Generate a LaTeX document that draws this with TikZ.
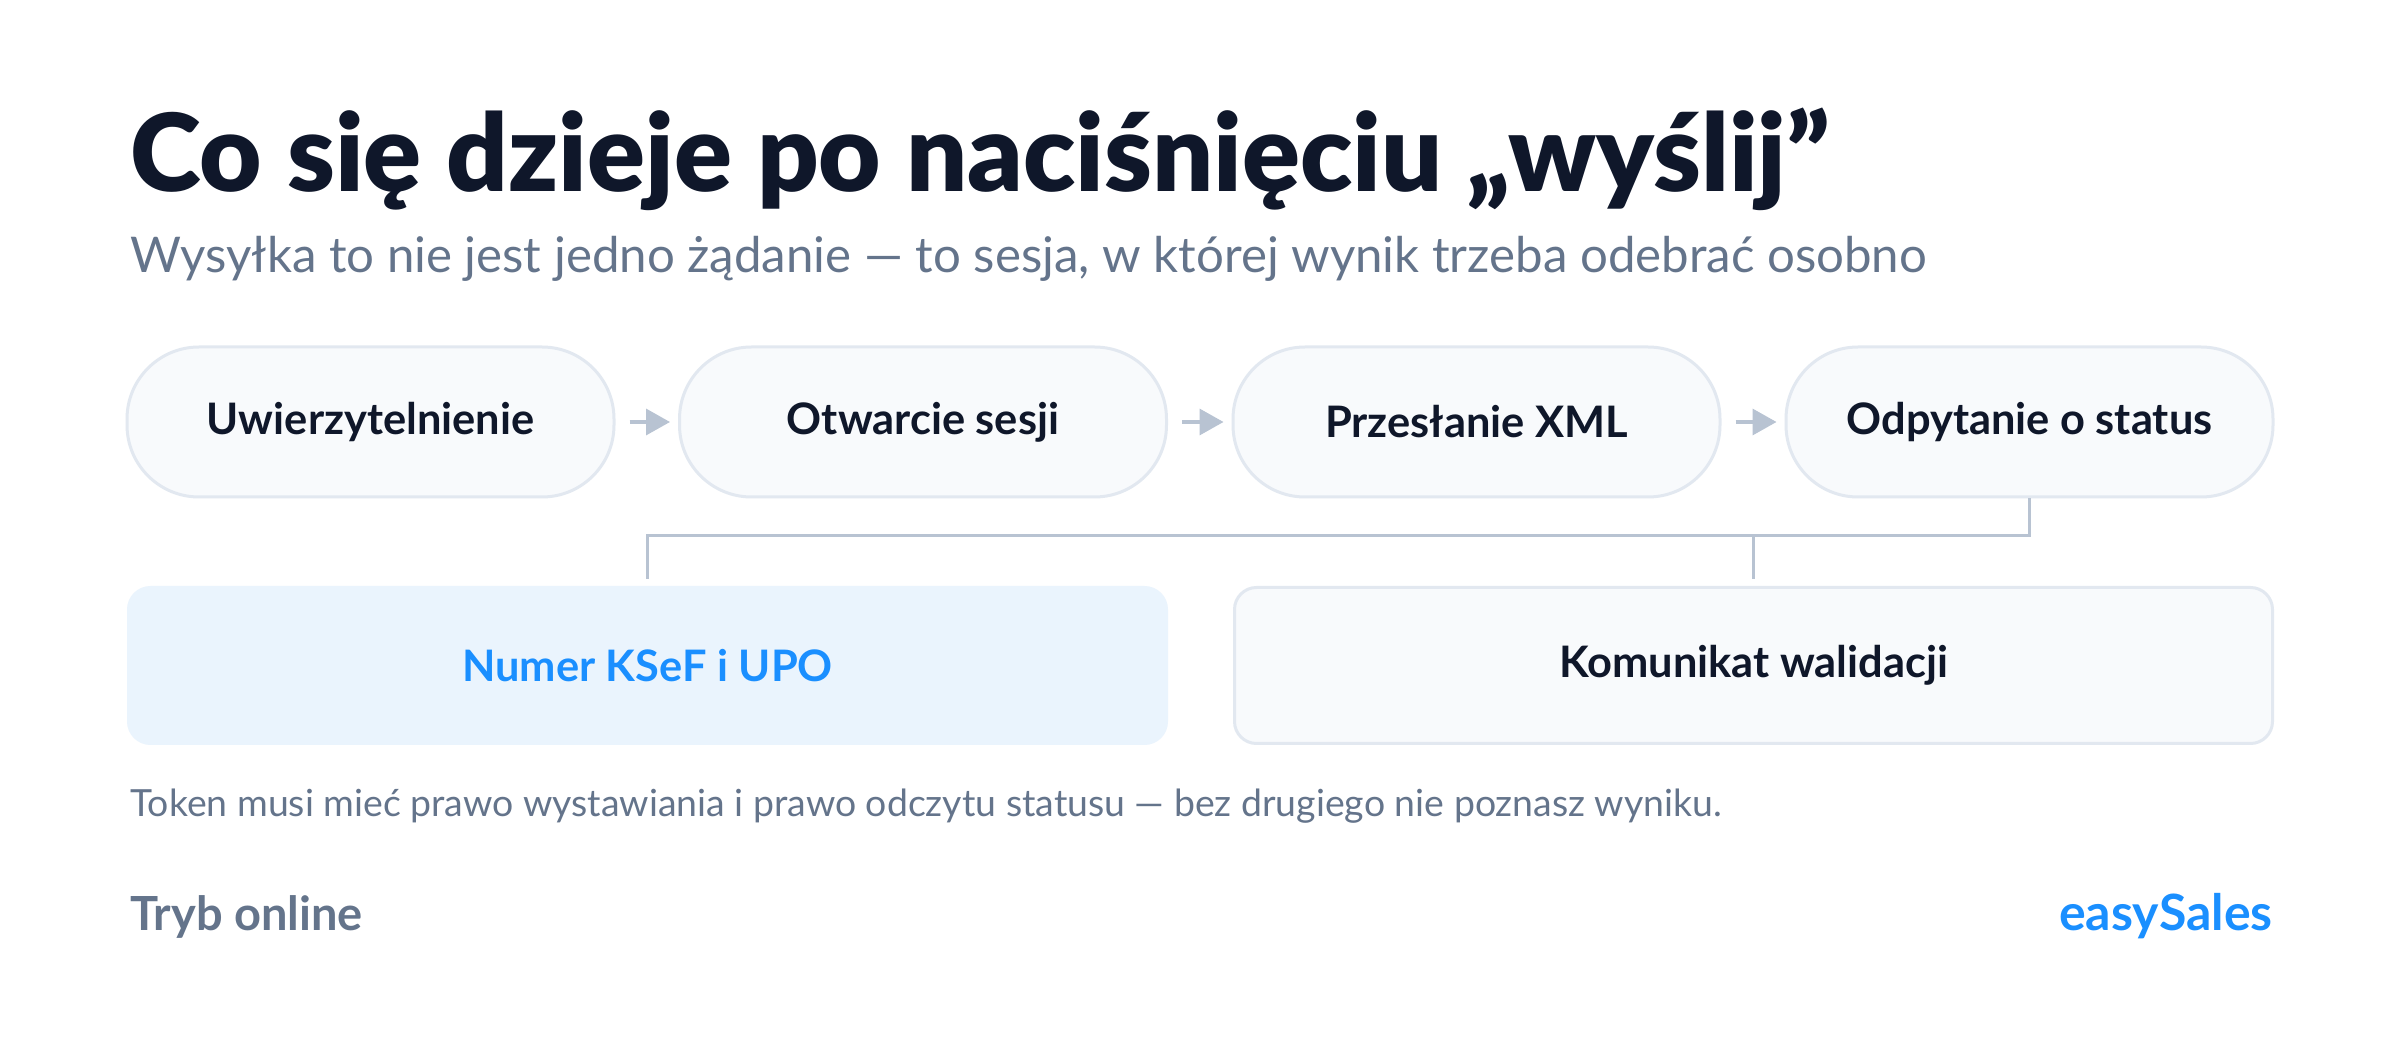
\documentclass[tikz,border=0pt]{standalone}
\usepackage{fontspec}
\setmainfont{Lato}
\newfontfamily\heavyfont{Lato Black}
\usetikzlibrary{arrows.meta,calc}
\definecolor{ink}{HTML}{0F172A}
\definecolor{muted}{HTML}{64748B}
\definecolor{boxfill}{HTML}{F8FAFC}
\definecolor{boxline}{HTML}{E2E8F0}
\definecolor{conn}{HTML}{B8C3D2}
\definecolor{brand}{HTML}{1A8FFF}
\definecolor{okfill}{HTML}{EAF4FD}
\begin{document}
\begin{tikzpicture}[x=0.5pt,y=-0.5pt,
  stepbox/.style={draw=boxline, line width=1.5pt, fill=boxfill, rounded corners=36pt,
    minimum width=243.5pt, minimum height=75pt, inner sep=0pt,
    font=\fontsize{21.7pt}{26pt}\selectfont\bfseries, text=ink},
  resbox/.style={line width=1.5pt, rounded corners=11pt,
    minimum width=519pt, minimum height=78pt, inner sep=0pt,
    font=\fontsize{21.7pt}{26pt}\selectfont\bfseries},
  flow/.style={draw=conn, line width=1.7pt, -{Triangle[length=12pt,width=13pt]},
    shorten <=7pt, shorten >=4pt},
  link/.style={draw=conn, line width=1.5pt},
  txt/.style={inner sep=0pt, anchor=base west}
]
\useasboundingbox (0,0) rectangle (2400,1042);
\fill[white] (0,0) rectangle (2400,1042);

\node[txt, text=ink, font=\fontsize{53.8pt}{62pt}\heavyfont] (title) at (130,192)
  {Co się dzieje po naciśnięciu „wyślij”};
\node[txt, text=muted, font=\fontsize{24.6pt}{29pt}\selectfont] (sub) at (130,273)
  {Wysyłka to nie jest jedno żądanie — to sesja, w której wynik trzeba odebrać osobno};

\node[stepbox] (s1) at (370.5,422) {Uwierzytelnienie};
\node[stepbox] (s2) at (923,422) {Otwarcie sesji};
\node[stepbox] (s3) at (1476.5,422) {Przesłanie XML};
\node[stepbox] (s4) at (2029.5,422) {Odpytanie o status};

\draw[flow] (s1) -- (s2);
\draw[flow] (s2) -- (s3);
\draw[flow] (s3) -- (s4);

\node[resbox, draw=okfill, fill=okfill, text=brand] (ok) at (647.5,665.5) {Numer KSeF i UPO};
\node[resbox, draw=boxline, fill=boxfill, text=ink] (err) at (1753.5,665.5) {Komunikat walidacji};

\coordinate (j) at ($(s4.south)+(0,37)$);
\draw[link, shorten >=3.5pt] (s4.south) -- (j) -| (ok.north);
\draw[link, shorten >=3.5pt] (err.north |- j) -- (err.north);

\node[txt, text=muted, font=\fontsize{18.7pt}{22pt}\selectfont] (note) at (130,816)
  {Token musi mieć prawo wystawiania i prawo odczytu statusu — bez drugiego nie poznasz wyniku.};
\node[txt, text=muted, font=\fontsize{23.5pt}{28pt}\selectfont\bfseries] (mode) at (130,930) {Tryb online};
\node[inner sep=0pt, anchor=base east, text=brand, font=\fontsize{25pt}{30pt}\selectfont\bfseries] (logo) at (2273,930) {easySales};
\end{tikzpicture}
\end{document}
